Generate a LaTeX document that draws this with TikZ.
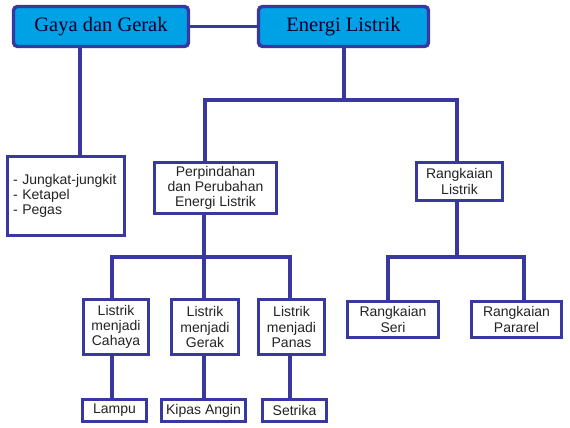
\documentclass[tikz,border=0pt]{standalone}
\usepackage{fontspec}
\setmainfont{Liberation Serif}
\setsansfont{Liberation Sans}
\usetikzlibrary{positioning, calc}
\definecolor{mapline}{RGB}{56,56,158}
\definecolor{mapcyan}{RGB}{0,161,229}
\definecolor{maptext}{RGB}{35,35,35}
\tikzset{
  %% ---- boxes ----
  topic/.style = {rectangle, rounded corners=4pt,
                  draw=mapline, line width=3.4pt, fill=mapcyan,
                  minimum width=#1, minimum height=40pt, inner sep=0pt,
                  font=\fontsize{20.5}{22}\selectfont, text=black!85!blue},
  topic/.default = 175pt,
  item/.style  = {rectangle, draw=mapline, line width=3.8pt, fill=white,
                  minimum width=#1, inner sep=0pt, align=center,
                  font=\sffamily\fontsize{14}{15.3}\selectfont, text=maptext},
  item/.default = 70pt,
  %% ---- connectors ----
  link/.style  = {line width=3.8pt, color=mapline},
}

\begin{document}
\begin{tikzpicture}[x=1pt, y=-1pt]
  \useasboundingbox (0,0) rectangle (570,428);

  % top row
  \node[topic=175pt] (gaya)   at (101,26.5)   {Gaya dan Gerak};
  \node[topic=170pt] (energi) at (343.5,26.5) {Energi Listrik};

  % second row
  \node[item=117pt, minimum height=79pt, text width=106pt, align=left] (contoh)
    at (66,196) {- Jungkat-jungkit\\- Ketapel\\- Pegas};
  \node[item=122pt, minimum height=51pt] (pindah) at (215.5,188)
    {Perpindahan\\dan Perubahan\\Energi Listrik};
  \node[item=86pt, minimum height=38pt] (rangk) at (459.5,181.5)
    {Rangkaian\\Listrik};

  % third row
  \node[item=65pt, minimum height=55pt] (cahaya) at (116,327)
    {Listrik\\menjadi\\Cahaya};
  \node[item=67pt, minimum height=55pt] (gerak) at (205,327)
    {Listrik\\menjadi\\Gerak};
  \node[item=66pt, minimum height=55pt] (panas) at (291.5,327)
    {Listrik\\menjadi\\Panas};
  \node[item=91pt, minimum height=36pt] (seri) at (393,319.5)
    {Rangkaian\\Seri};
  \node[item=90pt, minimum height=36pt] (pararel) at (516.5,319.5)
    {Rangkaian\\Pararel};

  % bottom row
  \node[item=64pt, minimum height=22pt] (lampu)   at (114.5,410.5) {Lampu};
  \node[item=84pt, minimum height=22pt] (kipas)   at (203.5,410.5) {Kipas Angin};
  \node[item=64pt, minimum height=22pt] (setrika) at (294.5,410.5) {Setrika};

  % branch points
  \coordinate (gx) at (80,0);
  \coordinate (e1) at (344,100);
  \coordinate (p1) at (205,100);
  \coordinate (r1) at (457,100);
  \coordinate (p2) at (204,257);
  \coordinate (c2) at (112,257);
  \coordinate (s2) at (290,257);
  \coordinate (r2) at (457,257);
  \coordinate (a2) at (388,257);
  \coordinate (b2) at (524,257);

  % connectors
  \draw[link] (gaya.east) -- (energi.west);
  \draw[link] (gaya.south -| gx) -- (contoh.north -| gx);
  \draw[link] (energi.south -| e1) -- (e1);
  \draw[link] (pindah.north -| p1) -- (p1) -- (r1) -- (rangk.north -| r1);

  \draw[link] (pindah.south -| p2) -- (p2);
  \draw[link] (cahaya.north -| c2) -- (c2) -- (s2) -- (panas.north -| s2);
  \draw[link] (p2) -- (gerak.north -| p2);
  \draw[link] (cahaya.south -| c2) -- (lampu.north -| c2);
  \draw[link] (gerak.south -| p2) -- (kipas.north -| p2);
  \draw[link] (panas.south -| s2) -- (setrika.north -| s2);

  \draw[link] (rangk.south -| r2) -- (r2);
  \draw[link] (seri.north -| a2) -- (a2) -- (b2) -- (pararel.north -| b2);

\end{tikzpicture}
\end{document}
